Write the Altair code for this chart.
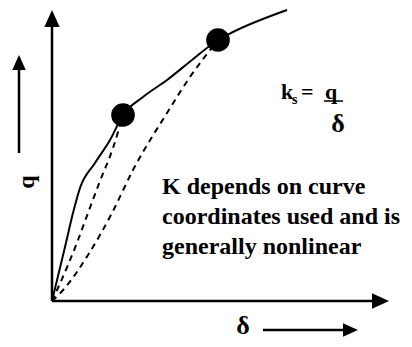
import altair as alt
import pandas as pd

# Solid load-deflection curve (delta, q)
curve_d = [0, 13, 21, 28, 43, 58, 71, 91, 115, 140, 166, 181, 235]
curve_q = [0, 54, 88, 113, 138, 161, 186, 204, 221, 241, 261, 269, 291]

# Dashed secant lines
sec1_d = [0, 6, 26, 36, 48, 61, 71]
sec1_q = [0, 13, 61, 88, 120, 153, 186]
sec2_d = [0, 12, 36, 60, 81, 115, 138, 166]
sec2_q = [0, 12, 46, 88, 131, 188, 224, 261]

# Marked points
dot_d = [71, 166]
dot_q = [186, 261]

# Axes (shafts) and arrow tips
axis_x1 = [0, 0, -33, 211]
axis_y1 = [0, 0, 148, -29]
axis_x2 = [0, 320, -33, 298]
axis_y2 = [282, 0, 234, -29]
tip_x = [0, 337, -33, 306]
tip_y = [291, 0, 246, -29]
tip_angle = [0, 90, 0, 90]
tip_size = [1156, 1156, 900, 900]

# Labels
note_lines = ["K depends on curve", "coordinates used and is", "generally nonlinear"]
note_y = [107, 77, 47]

serif = "Liberation Serif"
W, H = 396, 331
xs = alt.Scale(domain=[-44, 352])
ys = alt.Scale(domain=[-38, 293])

def X(f="x"):
    return alt.X(f"{f}:Q", scale=xs, axis=None)

def Y(f="y"):
    return alt.Y(f"{f}:Q", scale=ys, axis=None)

curve_df = pd.DataFrame({"x": curve_d, "y": curve_q})
sec_df = pd.DataFrame({
    "x": sec1_d + sec2_d,
    "y": sec1_q + sec2_q,
    "s": ["a"] * len(sec1_d) + ["b"] * len(sec2_d),
    "o": list(range(len(sec1_d))) + list(range(len(sec2_d))),
})
dot_df = pd.DataFrame({"x": dot_d, "y": dot_q})
axis_df = pd.DataFrame({"x": axis_x1, "y": axis_y1, "x2": axis_x2, "y2": axis_y2})
tip_df = pd.DataFrame({"x": tip_x, "y": tip_y, "a": tip_angle, "sz": tip_size})
note_df = pd.DataFrame({"x": [110] * 3, "y": note_y, "t": note_lines})

axes = alt.Chart(axis_df).mark_rule(color="black", strokeWidth=2.5).encode(
    x=X(), y=Y(), x2="x2:Q", y2="y2:Q")

tips = alt.Chart(tip_df).mark_point(
    shape="M0,0L0.45,1L-0.45,1Z", filled=True, color="black", opacity=1, strokeWidth=0
).encode(x=X(), y=Y(), angle=alt.Angle("a:Q", scale=None), size=alt.Size("sz:Q", scale=None))

curve = alt.Chart(curve_df).mark_line(color="black", strokeWidth=2, interpolate="monotone").encode(
    x=X(), y=Y(), order="x:Q")

secants = alt.Chart(sec_df).mark_line(
    color="black", strokeWidth=2, strokeDash=[6, 5], interpolate="monotone"
).encode(x=X(), y=Y(), detail="s:N", order="o:Q")

dots = alt.Chart(dot_df).mark_circle(color="black", size=560, opacity=1).encode(x=X(), y=Y())

notes = alt.Chart(note_df).mark_text(
    font=serif, fontSize=24, fontWeight="bold", align="left", baseline="alphabetic", color="black"
).encode(x=X(), y=Y(), text="t:N")

def label(x, y, t, size=24, align="left", angle=0, baseline="alphabetic"):
    return alt.Chart(pd.DataFrame({"x": [x], "y": [y], "t": [t]})).mark_text(
        font=serif, fontSize=size, fontWeight="bold", align=align, baseline=baseline,
        color="black", angle=angle
    ).encode(x=X(), y=Y(), text="t:N")

k_lbl = label(229, 202, "k", 22)
s_lbl = label(240, 197, "s", 14)
eq_lbl = label(249, 202, "=", 22)
q_lbl = label(273, 202, "q", 22)
d_lbl = label(286, 169, "δ", 26, align="center")
q_axis = label(-25, 119, "q", 24, align="center", angle=270, baseline="middle")
d_axis = label(191, -38, "δ", 26, align="center", baseline="bottom")

uline = alt.Chart(pd.DataFrame({"x": [272], "x2": [291], "y": [200]})).mark_rule(
    color="black", strokeWidth=1.5).encode(x=X(), x2="x2:Q", y=Y())

chart = alt.layer(
    axes, tips, curve, secants, dots, notes,
    k_lbl, s_lbl, eq_lbl, q_lbl, d_lbl, uline, q_axis, d_axis
).properties(
    width=W, height=H, padding=0, autosize=alt.AutoSizeParams(type="none"),
    background="white"
).configure_view(stroke=None)

chart.save("out.html", embed_options={"renderer": "svg", "actions": False})
